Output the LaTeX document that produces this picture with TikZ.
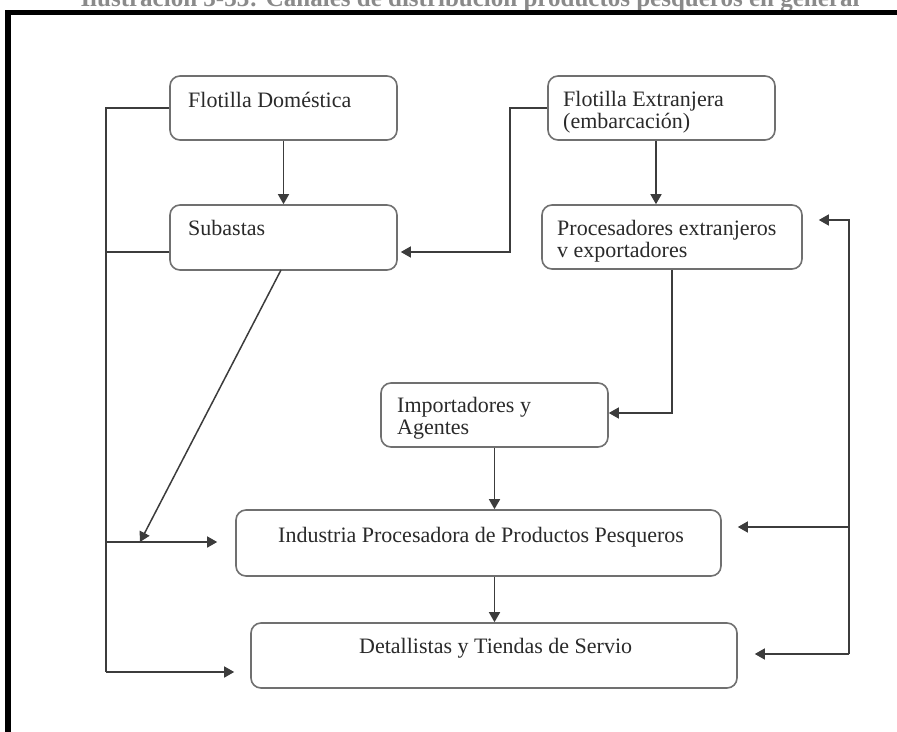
\documentclass[tikz,border=0pt]{standalone}
\usepackage{fontspec}
\setmainfont{Liberation Serif}
\usetikzlibrary{calc,arrows.meta}
\definecolor{boxgray}{HTML}{707070}
\definecolor{linegray}{HTML}{3C3C3C}
\definecolor{textgray}{HTML}{2A2A2A}
\definecolor{titlegray}{HTML}{8A8A8A}
\begin{document}
\begin{tikzpicture}[x=1pt,y=-1pt,
  box/.style={draw=boxgray, line width=1.6pt, rounded corners=10pt, inner sep=0pt, fill=white},
  txt/.style={font=\fontsize{22}{22.5}\selectfont, text=textgray, inner sep=0pt, align=left},
  link/.style={draw=linegray, line width=1.5pt},
  arr/.style={link, -{Triangle[length=10pt,width=11pt]}},
]
\useasboundingbox (0,0) rectangle (897,731);
\clip (0,0) rectangle (897,731);

% caption above the frame
\node[anchor=base, font=\bfseries\fontsize{25}{25}\selectfont, text=titlegray, inner sep=0pt]
  (title) at (470,6) {Ilustración 3-33: Canales de distribución productos pesqueros en general};

% frame
\draw[line width=5.5pt, black] (8,745) -- (8,12.5) -- (910,12.5);

% boxes
\node[box, minimum width=227pt, minimum height=64pt] (fd)  at (283.5,108) {};
\node[box, minimum width=227pt, minimum height=65pt] (sub) at (283.5,237.5) {};
\node[box, minimum width=227pt, minimum height=64pt] (fe)  at (661.5,108) {};
\node[box, minimum width=260pt, minimum height=64pt] (pe)  at (672,237) {};
\node[box, minimum width=227pt, minimum height=64pt] (imp) at (494.5,415) {};
\node[box, minimum width=485pt, minimum height=66pt] (ind) at (478.5,543) {};
\node[box, minimum width=486pt, minimum height=65pt] (det) at (494,655.5) {};

% box texts (base anchor sits on the last line)
\node[txt, anchor=base west] (tfd)  at (188,107) {Flotilla Doméstica};
\node[txt, anchor=base west] (tsub) at (188,235) {Subastas};
\node[txt, anchor=base west] (tfe)  at (563,128.5) {Flotilla Extranjera\\(embarcación)};
\node[txt, anchor=base west] (tpe)  at (557,257.5) {Procesadores extranjeros\\v exportadores};
\node[txt, anchor=base west] (timp) at (397,434.5) {Importadores y\\Agentes};
\node[txt, anchor=base west] (tind) at (278,542) {Industria Procesadora de Productos Pesqueros};
\node[txt, anchor=base west] (tdet) at (359,653) {Detallistas y Tiendas de Servio};

% routing points
\coordinate (ltop) at (106,108);
\coordinate (lsub) at (106,252);
\coordinate (lind) at (106,542);
\coordinate (lbot) at (106,672);
\coordinate (dend) at (140,542);
\coordinate (dstart) at (281,270);
\coordinate (xfe) at (656,0);
\coordinate (fl1) at (510,108);
\coordinate (fl2) at (510,252);
\coordinate (pi)  at (672,413);
\coordinate (rtop) at (849,220);
\coordinate (rind) at (849,527);
\coordinate (rbot) at (849,654);

% left trunk
\draw[link] (fd.west) -- (ltop) -- (lbot);
\draw[link] (sub.west |- lsub) -- (lsub);
\draw[arr, shorten >=18pt] (lind) -- (ind.west |- lind);
\draw[arr, shorten >=16pt] (lbot) -- (det.west |- lbot);
\draw[arr] (dstart) -- (dend);

% vertical flow
\draw[arr] (fd.south) -- (sub.north);
\draw[arr] (fe.south -| xfe) -- (pe.north -| xfe);
\draw[arr, shorten >=3pt] (fe.west) -- (fl1) -- (fl2) -- (sub.east |- fl2);
\draw[arr] (pe.south -| pi) -- (pi) -- (imp.east |- pi);
\draw[arr] (imp.south) -- (ind.north -| imp.south);
\draw[arr] (ind.south -| imp.south) -- (det.north -| imp.south);

% right trunk
\draw[arr, shorten >=16pt] (rbot) -- (rtop) -- (pe.east |- rtop);
\draw[arr, shorten >=16pt] (rind) -- (ind.east |- rind);
\draw[arr, shorten >=17pt] (rbot) -- (det.east |- rbot);
\end{tikzpicture}
\end{document}
